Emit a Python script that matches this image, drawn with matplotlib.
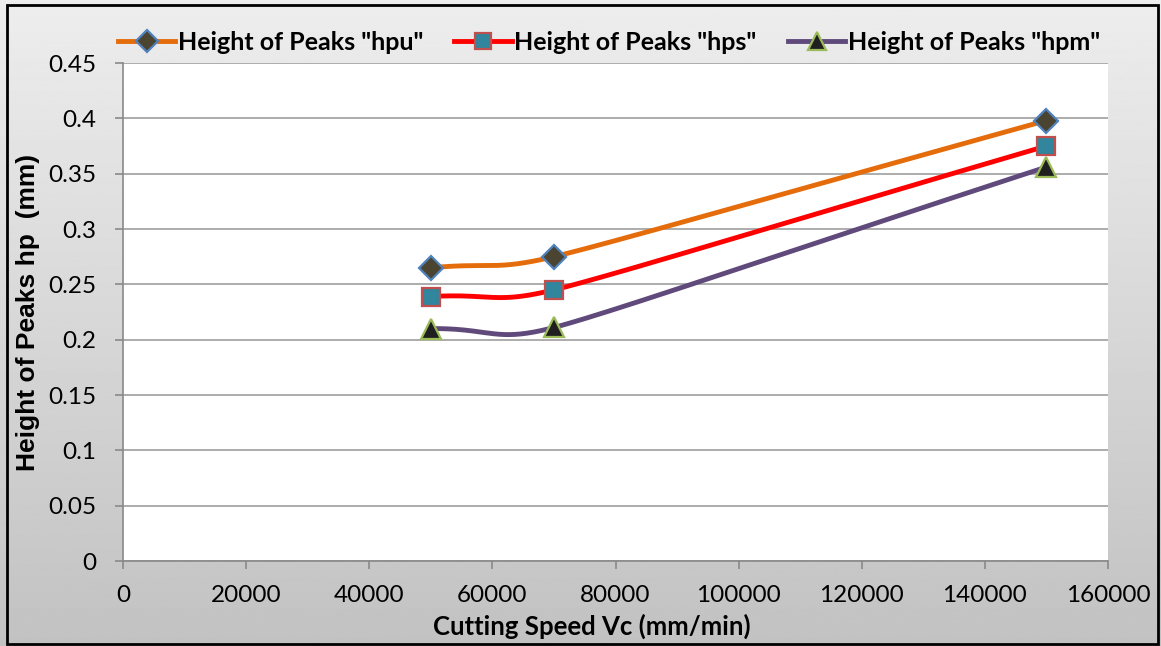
import numpy as np
import matplotlib.pyplot as plt
from matplotlib.patches import Rectangle

# cutting speed (mm/min) and peak heights (mm)
speed = [50000, 70000, 150000]
hpu = [0.265, 0.275, 0.398]
hps = [0.239, 0.245, 0.375]
hpm = [0.210, 0.211, 0.356]

labels = ['Height of Peaks "hpu"', 'Height of Peaks "hps"', 'Height of Peaks "hpm"']
xticks = [0, 20000, 40000, 60000, 80000, 100000, 120000, 140000, 160000]
yticks = [0, 0.05, 0.1, 0.15, 0.2, 0.25, 0.3, 0.35, 0.4, 0.45]
ytick_labels = ['0', '0.05', '0.1', '0.15', '0.2', '0.25', '0.3', '0.35', '0.4', '0.45']


def smooth(x, y, sx, sy, k=0.5, n=80):
    """smoothed curve through the points (bezier, unit tangents scaled by
    the shorter neighbouring segment), in screen-like units"""
    P = np.column_stack([np.asarray(x, float) * sx, np.asarray(y, float) * sy])
    m = len(P)
    seglen = np.linalg.norm(np.diff(P, axis=0), axis=1)
    tang = np.zeros_like(P)
    mag = np.zeros(m)
    for i in range(m):
        a = P[max(i - 1, 0)]
        b = P[min(i + 1, m - 1)]
        d = b - a
        tang[i] = d / np.linalg.norm(d)
        near = [seglen[j] for j in (i - 1, i) if 0 <= j < m - 1]
        mag[i] = k * min(near)
    out = []
    t = np.linspace(0, 1, n)[:, None]
    for i in range(m - 1):
        p1, p2 = P[i], P[i + 1]
        c1 = p1 + tang[i] * min(mag[i], k * seglen[i])
        c2 = p2 - tang[i + 1] * min(mag[i + 1], k * seglen[i])
        seg = ((1 - t) ** 3 * p1 + 3 * (1 - t) ** 2 * t * c1
               + 3 * (1 - t) * t ** 2 * c2 + t ** 3 * p2)
        out.append(seg)
    out = np.vstack(out)
    return out[:, 0] / sx, out[:, 1] / sy


fig = plt.figure(figsize=(11.61, 6.46), dpi=100)

# gray gradient background
bg = fig.add_axes([0, 0, 1, 1], zorder=-10)
grad = np.linspace(0.93, 0.76, 256)[:, None]
bg.imshow(grad, cmap='gray', vmin=0, vmax=1, aspect='auto', extent=[0, 1, 0, 1])
bg.set_axis_off()
fig.patches.append(Rectangle((7 / 1161, 2 / 646), 1151 / 1161, 639 / 646,
                             transform=fig.transFigure, fill=False,
                             ec='black', lw=2, zorder=5))

ax = fig.add_axes([123 / 1161, 1 - 561 / 646, 985 / 1161, 498 / 646])
ax.set_facecolor('white')

styles = [
    dict(color='#e46c0a', marker='D', mfc='#4a4430', mec='#4f81bd', ms=12.5),
    dict(color='#ff0000', marker='s', mfc='#31859c', mec='#c0504d', ms=13),
    dict(color='#604a7b', marker='^', mfc='#1f1f1f', mec='#9bbb59', ms=14),
]

handles = []
for ys, st, lab in zip([hpu, hps, hpm], styles, labels):
    cx, cy = smooth(speed, ys, 985 / 160000, 498 / 0.45)
    ax.plot(cx, cy, color=st['color'], lw=3.5, zorder=3, solid_capstyle='round')
    ax.plot(speed, ys, ls='none', marker=st['marker'], mfc=st['mfc'],
            mec=st['mec'], mew=1.6, ms=st['ms'], zorder=4)
    h, = ax.plot([], [], color=st['color'], lw=3.5, marker=st['marker'],
                 mfc=st['mfc'], mec=st['mec'], mew=1.6, ms=st['ms'] - 1)
    handles.append(h)

ax.set_xlim(0, 160000)
ax.set_ylim(0, 0.45)
ax.set_xticks(xticks)
ax.set_yticks(yticks)
ax.set_yticklabels(ytick_labels)
ax.tick_params(labelsize=17.5, colors='#898989', labelcolor='black', length=6, width=1.2)
ax.tick_params(axis='y', pad=13)
ax.tick_params(axis='x', pad=11)
for t in ax.get_xticklabels() + ax.get_yticklabels():
    t.set_family('Lato')

ax.grid(axis='y', color='#a6a6a6', lw=1.3)
ax.set_axisbelow(True)
for s in ['top', 'right']:
    ax.spines[s].set_visible(False)
for s in ['left', 'bottom']:
    ax.spines[s].set_color('#898989')
    ax.spines[s].set_linewidth(1.2)

ax.set_xlabel('Cutting Speed Vc (mm/min)', fontsize=18.5, fontweight='bold',
              family='Lato')
ax.xaxis.set_label_coords((592 - 123) / 985, -(626 - 561) / 498)
ax.xaxis.label.set_va('center')
ax.set_ylabel('Height of Peaks hp  (mm)', fontsize=19, fontweight='bold',
              family='Liberation Sans')
ax.yaxis.set_label_coords(-(123 - 28) / 985, 0.5)
ax.yaxis.label.set_va('center')

fig.legend(handles, labels, loc='center', bbox_to_anchor=(0.5245, 1 - 42 / 646),
           ncol=3, frameon=False, handlelength=2.3, handletextpad=0.1,
           columnspacing=1.25, prop=dict(family='Lato', weight='bold', size=18))

fig.savefig('out.png', dpi=100)
